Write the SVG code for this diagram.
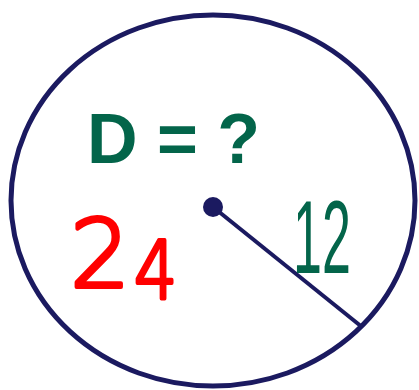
<svg xmlns="http://www.w3.org/2000/svg" width="419" height="390" viewBox="0 0 419 390">
<style>
.navy{stroke:#1b1a60;fill:none}
.green{fill:#03654a;font-family:"Liberation Sans",Arial,sans-serif}
.red{font-family:"DejaVu Sans",sans-serif;font-weight:200;fill:#ff0000;stroke:#ff0000;stroke-width:4;stroke-linejoin:round}
</style>
<rect width="419" height="390" fill="#fff"/>
<g id="circle"><ellipse class="navy" cx="213" cy="200.5" rx="202" ry="185.5" stroke-width="5"/></g>
<g id="connectors"><line class="navy" x1="213" y1="207" x2="362" y2="327" stroke-width="4"/></g>
<g id="center"><circle cx="213" cy="207" r="10" fill="#1b1a60"/></g>
<g id="question"><text class="green" x="87" y="163" font-size="70" font-weight="bold">D = ?</text></g>
<g id="answer"><text class="red" x="70" y="287" font-size="95">2</text><text class="red" transform="translate(134 299) scale(0.85 1)" font-size="80">4</text></g>
<g id="radius"><text class="green" transform="translate(293 273) scale(0.5 1)" font-size="104">12</text></g>
</svg>
